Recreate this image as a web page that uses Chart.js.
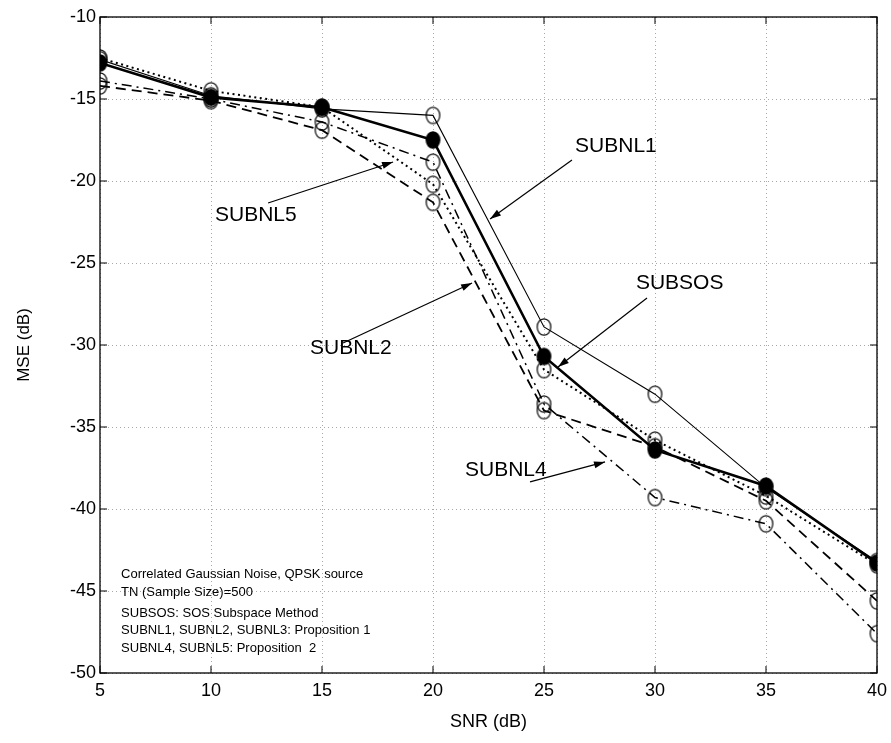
<!DOCTYPE html>
<html>
<head>
<meta charset="utf-8">
<script src="https://cdn.jsdelivr.net/npm/chart.js@4/dist/chart.umd.min.js"></script>
<style>
  html, body { margin: 0; padding: 0; background: #fff; }
  #wrap { position: relative; width: 891px; height: 743px; }
</style>
</head>
<body>
<div id="wrap"><canvas id="c" width="891" height="743"></canvas></div>
<script>
// ---- data ----
const snr = [5, 10, 15, 20, 25, 30, 35, 40];
const subsos = [-12.8, -14.9, -15.5, -17.5, -30.7, -36.4, -38.6, -43.3];
const subnl1 = [-12.6, -14.8, -15.6, -16.0, -28.9, -33.0, -38.7, -43.2];
const subnl2 = [-14.2, -15.1, -16.9, -21.3, -34.0, -36.2, -39.5, -45.6];
const subnl4 = [-13.9, -15.0, -16.4, -18.85, -33.6, -39.3, -40.9, -47.6];
const subnl5 = [-12.5, -14.5, -15.5, -20.2, -31.5, -35.8, -39.2, -43.4];
const xTicks = [5, 10, 15, 20, 25, 30, 35, 40];
const yTicks = [-10, -15, -20, -25, -30, -35, -40, -45, -50];

const curveLabels = [
  { text: 'SUBNL1', x: 26.40, y: -17.87 },
  { text: 'SUBNL5', x: 10.18, y: -22.07 },
  { text: 'SUBSOS', x: 29.14, y: -26.22 },
  { text: 'SUBNL2', x: 14.46, y: -30.18 },
  { text: 'SUBNL4', x: 21.44, y: -37.62 }
];
const arrows = [
  { from: [26.26, -18.72], to: [22.57, -22.32] },
  { from: [12.57, -21.34], to: [18.20, -18.84] },
  { from: [29.64, -27.13], to: [25.63, -31.34] },
  { from: [15.95, -29.88], to: [21.76, -26.22] },
  { from: [24.37, -38.35], to: [27.75, -37.13] }
];
const noteLines = [
  'Correlated Gaussian Noise, QPSK source',
  'TN (Sample Size)=500',
  'SUBSOS: SOS Subspace Method',
  'SUBNL1, SUBNL2, SUBNL3: Proposition 1',
  'SUBNL4, SUBNL5: Proposition  2'
];
const noteX = 5.95;
const noteY = [-43.96, -45.06, -46.36, -47.42, -48.48];

// ---- marker images (slightly oval circles as in the scan) ----
function makeMarker(filled) {
  const c = document.createElement('canvas');
  c.width = 17; c.height = 20;
  const g = c.getContext('2d');
  g.beginPath();
  g.ellipse(8.5, 10, 6.8, 8.2, 0, 0, Math.PI * 2);
  if (filled) { g.fillStyle = '#000'; g.fill(); }
  g.lineWidth = 1.2; g.strokeStyle = '#000'; g.stroke();
  return c;
}
const openMk = makeMarker(false);
const fillMk = makeMarker(true);

function pts(arr) { return snr.map((x, i) => ({ x: x, y: arr[i] })); }

const FONT = "'Liberation Sans', Arial, sans-serif";

const framePlugin = {
  id: 'frame',
  afterDraw(chart) {
    const ctx = chart.ctx;
    const a = chart.chartArea;
    const xs = chart.scales.x, ys = chart.scales.y;
    ctx.save();
    ctx.strokeStyle = '#000';
    ctx.lineWidth = 1.3;
    ctx.strokeRect(a.left, a.top, a.right - a.left, a.bottom - a.top);
    ctx.lineWidth = 1;
    xTicks.forEach(v => {
      const px = xs.getPixelForValue(v);
      ctx.beginPath();
      ctx.moveTo(px, a.bottom); ctx.lineTo(px, a.bottom - 7);
      ctx.moveTo(px, a.top); ctx.lineTo(px, a.top + 7);
      ctx.stroke();
    });
    yTicks.forEach(v => {
      const py = ys.getPixelForValue(v);
      ctx.beginPath();
      ctx.moveTo(a.left, py); ctx.lineTo(a.left + 7, py);
      ctx.moveTo(a.right, py); ctx.lineTo(a.right - 7, py);
      ctx.stroke();
    });
    // curve labels
    ctx.fillStyle = '#000';
    ctx.font = '21px ' + FONT;
    ctx.textBaseline = 'middle';
    ctx.textAlign = 'left';
    curveLabels.forEach(l => {
      ctx.fillText(l.text, xs.getPixelForValue(l.x), ys.getPixelForValue(l.y));
    });
    // arrows
    ctx.lineWidth = 1.2;
    arrows.forEach(ar => {
      const x1 = xs.getPixelForValue(ar.from[0]), y1 = ys.getPixelForValue(ar.from[1]);
      const x2 = xs.getPixelForValue(ar.to[0]), y2 = ys.getPixelForValue(ar.to[1]);
      const ang = Math.atan2(y2 - y1, x2 - x1);
      ctx.beginPath(); ctx.moveTo(x1, y1); ctx.lineTo(x2, y2); ctx.stroke();
      const L = 11, W = 3.5;
      ctx.beginPath();
      ctx.moveTo(x2, y2);
      ctx.lineTo(x2 - L * Math.cos(ang) + W * Math.sin(ang), y2 - L * Math.sin(ang) - W * Math.cos(ang));
      ctx.lineTo(x2 - L * Math.cos(ang) - W * Math.sin(ang), y2 - L * Math.sin(ang) + W * Math.cos(ang));
      ctx.closePath(); ctx.fill();
    });
    // notes
    ctx.font = '13px ' + FONT;
    noteLines.forEach((t, i) => {
      ctx.fillText(t, xs.getPixelForValue(noteX), ys.getPixelForValue(noteY[i]));
    });
    ctx.restore();
  }
};

const common = { fill: false, tension: 0, borderColor: '#000', backgroundColor: '#000', pointRadius: 8, pointHoverRadius: 8 };

new Chart(document.getElementById('c'), {
  type: 'line',
  data: {
    datasets: [
      Object.assign({}, common, { label: 'SUBNL1', data: pts(subnl1), borderWidth: 1.1, pointStyle: openMk }),
      Object.assign({}, common, { label: 'SUBNL2', data: pts(subnl2), borderWidth: 1.8, borderDash: [10, 6], pointStyle: openMk }),
      Object.assign({}, common, { label: 'SUBNL4', data: pts(subnl4), borderWidth: 1.5, borderDash: [10, 5, 2, 5], pointStyle: openMk }),
      Object.assign({}, common, { label: 'SUBNL5', data: pts(subnl5), borderWidth: 2, borderDash: [2, 3.5], pointStyle: openMk }),
      Object.assign({}, common, { label: 'SUBSOS', data: pts(subsos), borderWidth: 2.6, pointStyle: fillMk })
    ]
  },
  options: {
    responsive: false,
    animation: false,
    events: [],
    layout: { padding: { left: 0, right: 14, top: 17, bottom: 0 } },
    plugins: { legend: { display: false }, tooltip: { enabled: false } },
    scales: {
      x: {
        type: 'linear', min: 5, max: 40,
        afterFit(s) { s.height = 70; s.paddingLeft = 0; s.paddingRight = 0; },
        afterBuildTicks(s) { s.ticks = xTicks.map(v => ({ value: v })); },
        ticks: { color: '#000', font: { family: FONT, size: 18 }, padding: 7, maxRotation: 0 },
        grid: { color: '#a8a8a8', lineWidth: 1, drawTicks: false, tickLength: 0 },
        border: { display: false, dash: [1, 3] },
        title: { display: true, text: 'SNR (dB)', color: '#000', font: { family: FONT, size: 18 }, padding: { top: 0, bottom: 10 } }
      },
      y: {
        type: 'linear', min: -50, max: -10,
        afterFit(s) { s.width = 100; s.paddingTop = 0; s.paddingBottom = 0; },
        afterBuildTicks(s) { s.ticks = yTicks.map(v => ({ value: v })); },
        ticks: { color: '#000', font: { family: FONT, size: 18 }, padding: 4 },
        grid: { color: '#a8a8a8', lineWidth: 1, drawTicks: false, tickLength: 0 },
        border: { display: false, dash: [1, 3] },
        title: { display: true, text: 'MSE (dB)', color: '#000', font: { family: FONT, size: 17 }, padding: { top: 14, bottom: 0 } }
      }
    }
  },
  plugins: [framePlugin]
});
</script>
</body>
</html>
